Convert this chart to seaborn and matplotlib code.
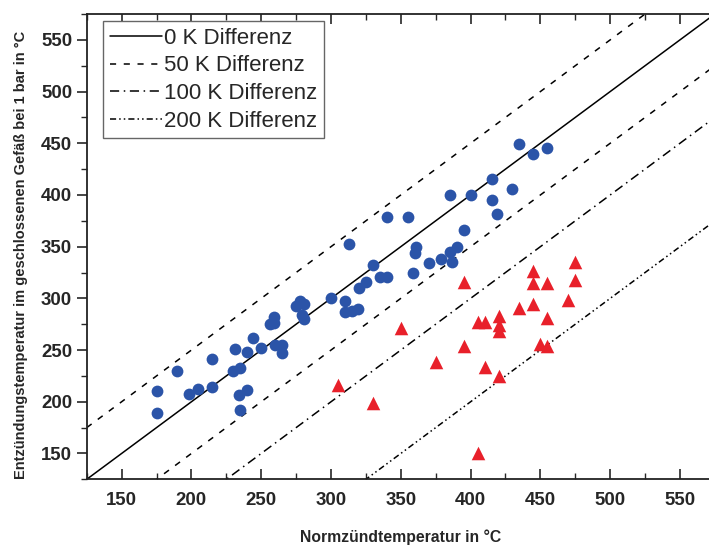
import matplotlib
matplotlib.use('Agg')
import matplotlib.pyplot as plt
from matplotlib.ticker import MultipleLocator
import seaborn as sns
import numpy as np
import pandas as pd

# Messwerte: geschlossenes Gefaess (blau)
blue_x = [175, 175, 190, 198, 205, 215, 215, 230, 231, 235, 234, 235, 240, 240, 244,
          250, 256, 259, 259, 260, 265, 265, 275, 278, 281, 279, 281, 300, 310, 310,
          315, 319, 313, 320, 325, 330, 335, 340, 340, 355, 359, 360, 361, 370, 379,
          385, 387, 390, 385, 395, 400, 415, 415, 419, 430, 435, 445, 455]
blue_y = [210, 189, 230, 208, 212, 214, 241, 230, 251, 233, 207, 192, 248, 211, 262,
          252, 275, 282, 276, 255, 255, 247, 293, 297, 295, 284, 280, 300, 297, 287,
          288, 290, 353, 310, 316, 332, 321, 321, 379, 379, 325, 344, 350, 334, 338,
          345, 335, 350, 400, 366, 400, 415, 395, 382, 406, 449, 440, 445]

# Ausreisser (rot)
red_x = [305, 330, 350, 375, 395, 395, 405, 410, 405, 410, 420, 420, 420, 420, 435,
         445, 445, 445, 450, 455, 455, 455, 470, 475, 475]
red_y = [216, 199, 271, 238, 316, 254, 277, 277, 150, 234, 283, 274, 268, 225, 291,
         326, 315, 295, 256, 315, 281, 254, 298, 335, 318]

# Differenzlinien y = x - d
diffs = [0, 50, -50, 100, 200]
diff_labels = ['0 K Differenz', '50 K Differenz', None, '100 K Differenz', '200 K Differenz']
diff_styles = ['-', (0, (4, 5)), (0, (4, 5)), (0, (6, 3, 1, 3)), (0, (4, 2, 1, 2, 1, 2))]

sns.set_theme(style='ticks')
plt.rcParams['font.family'] = ['Liberation Sans', 'DejaVu Sans']

fig = plt.figure(figsize=(7.09, 5.45), dpi=100)
ax = fig.add_axes([0.1223, 0.1205, 0.886, 0.8538])

xs = np.array([125, 575])
for d, lab, ls in zip(diffs, diff_labels, diff_styles):
    sns.lineplot(x=xs, y=xs - d, ax=ax, color='black', linewidth=1.1,
                 linestyle=ls, label=lab if lab else '_nolegend_')

sns.scatterplot(x=blue_x, y=blue_y, ax=ax, color='#2b54a8', s=72, marker='o',
                linewidth=0, zorder=3)
sns.scatterplot(x=red_x, y=red_y, ax=ax, color='#e8202a', s=95, marker='^',
                linewidth=0, zorder=3)

ax.set_xlim(125, 575)
ax.set_ylim(125, 575)
ax.xaxis.set_minor_locator(MultipleLocator(25))
ax.yaxis.set_minor_locator(MultipleLocator(25))
ax.set_xticks(np.arange(150, 575, 50))
ax.set_yticks(np.arange(150, 575, 50))

for sp in ax.spines.values():
    sp.set_visible(True)
    sp.set_linewidth(1.3)
    sp.set_color('#222222')

ax.tick_params(axis='x', which='major', direction='in', length=7, width=1.2,
               top=True, pad=9, labelsize=13.4)
ax.tick_params(axis='x', which='minor', direction='in', length=4, width=1.0, top=True)
ax.tick_params(axis='y', which='major', direction='out', length=7, width=1.2,
               right=True, pad=3.5, labelsize=13.4)
ax.tick_params(axis='y', which='minor', direction='out', length=4, width=1.0, right=True)
for lbl in ax.get_xticklabels() + ax.get_yticklabels():
    lbl.set_fontweight('bold')

ax.set_xlabel('Normzündtemperatur in °C', fontsize=11.3, fontweight='bold')
ax.xaxis.set_label_coords(0.499, -0.108)
ax.set_ylabel('Entzündungstemperatur im geschlossenen Gefäß bei 1 bar in °C',
              fontsize=10.5, fontweight='bold')
ax.yaxis.set_label_coords(-0.093, 0.482)

leg = ax.legend(loc='upper left', bbox_to_anchor=(0.0261, 0.985), borderaxespad=0,
                fontsize=16, handlelength=2.35, handletextpad=0.08, labelspacing=0.3,
                borderpad=0.3, fancybox=False, framealpha=1)
leg.get_frame().set_edgecolor('#666666')
leg.get_frame().set_linewidth(1.0)

fig.savefig('out.png', dpi=100)
